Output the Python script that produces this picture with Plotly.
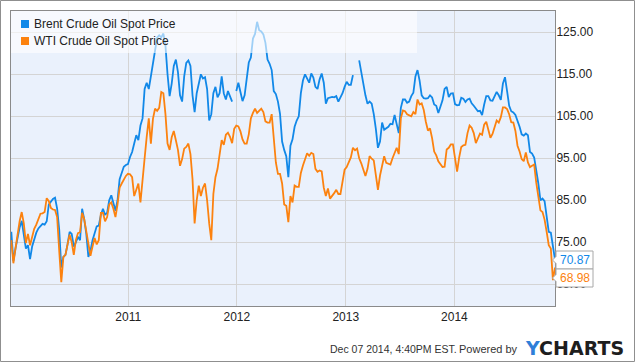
import pandas as pd
import plotly.graph_objects as go

# ---------------- data (weekly) ----------------
start_date = "2009-12-04"
n_weeks = 262
dates = pd.date_range(start=start_date, periods=n_weeks, freq="7D")

brent = [
    77.5, 70.5, 73.5, 76.5, 78.5, 80.1, 77.0, 73.5, 74.3, 71.0,
    74.0, 76.0, 77.3, 78.3, 79.0, 79.4, 79.2, 80.0, 84.0, 84.7,
    85.3, 85.6, 83.0, 78.0, 69.0, 71.5, 72.0, 74.5, 77.5, 77.0,
    74.0, 75.0, 76.3, 75.5, 83.0, 80.5, 77.0, 71.5, 73.0, 75.5,
    77.5, 78.8, 79.0, 81.5, 83.0, 81.6, 82.0, 85.0, 86.2, 84.5,
    82.5, 85.0, 90.0, 91.5, 93.0, 93.4, 93.6, 95.3, 96.5, 98.5,
    100.5, 99.3, 102.8, 104.5, 111.5, 113.0, 111.5, 114.5, 117.5, 121.5,
    123.7, 124.3, 123.8, 124.7, 121.8, 115.0, 109.8, 112.8, 117.0, 118.5,
    115.5, 110.0, 108.5, 114.5, 117.7, 118.3, 117.0, 110.0, 106.0, 110.5,
    113.0, 115.0, 114.0, 114.3, 111.5, 104.0, 105.5, 110.5, 112.0, 109.5,
    110.5, 114.5, 110.5, 109.0, 111.0, 109.5, 108.5, None, 111.0, 113.0,
    110.8, 108.6, 110.0, 114.0, 117.8, 119.0, 123.5, 124.6, 127.5, 125.5,
    125.2, 124.5, 122.5, 118.5, 117.5, 116.0, 111.0, 110.3, 108.5, 105.6,
    99.0, 97.0, 95.5, 90.5, 98.0, 99.5, 102.5, 104.0, 105.0, 110.5,
    113.5, 115.0, 114.0, 113.0, 115.2, 114.2, 112.0, 111.5, 113.8, 115.2,
    113.0, 108.0, 109.3, 109.5, 109.6, 109.5, 109.8, 108.5, 109.5, 110.5,
    112.0, 113.2, 112.5, 112.5, 114.8, None, None, 118.3, 115.5, 112.0,
    110.0, 108.0, 108.5, 108.0, 105.5, 102.0, 97.5, 99.0, 103.5, 101.8,
    102.1, 102.5, 103.2, 103.1, 105.3, 102.9, 101.0, 107.0, 109.0, 109.0,
    108.2, 108.5, 109.8, 110.6, 114.5, 116.0, 113.5, 110.0, 109.3, 109.2,
    109.3, 110.0, 109.5, 107.8, 107.5, 105.8, 107.5, 108.8, 111.5, 112.0,
    109.6, 110.4, 110.5, 107.9, 107.6, 107.7, 109.4, 109.2, 108.4, 109.0,
    109.2, 108.1, 107.5, 106.9, 106.2, 106.3, 105.3, 107.8, 109.8, 109.8,
    108.8, 108.7, 109.6, 110.8, 110.0, 108.9, 112.8, 114.3, 111.0, 107.5,
    106.2, 105.9, 105.3, 104.0, 102.5, 100.7, 100.4, 100.9, 100.5, 96.5,
    96.1, 95.2, 92.3, 89.0, 85.0, 85.4, 84.8, 80.8, 77.5, 77.3,
    74.0, 70.87,
]

wti = [
    75.5, 70.0, 73.5, 77.0, 80.0, 82.2, 79.5, 74.8, 77.0, 74.3,
    76.5, 78.2, 79.2, 80.5, 81.8, 81.9, 82.2, 85.5, 84.8, 83.2,
    82.8, 82.7, 81.0, 73.0, 65.5, 71.5, 72.0, 74.5, 76.8, 75.0,
    72.0, 75.5, 77.2, 77.4, 82.0, 80.5, 77.5, 74.0, 71.8, 74.0,
    76.0, 74.5, 75.5, 82.0, 82.0, 80.0, 81.0, 84.0, 84.5, 83.0,
    81.0, 84.0, 88.0, 89.0, 90.0, 90.8, 91.3, 91.2, 90.5, 86.0,
    87.5, 89.0, 84.5, 90.5, 95.0, 100.1, 104.5, 98.5, 104.4, 106.8,
    106.3, 107.0, 110.8, 110.5, 105.5, 98.5, 97.0, 100.0, 101.5, 99.3,
    97.0, 93.2, 94.8, 97.3, 97.7, 98.5, 96.0, 90.0, 79.5, 85.0,
    88.5, 86.0, 88.0, 89.0, 85.0, 79.5, 75.5, 86.5, 90.5, 92.5,
    95.5, 99.3, 98.2, 100.6, 101.1, 100.1, 98.6, 102.0, 102.8, 102.6,
    101.4, 99.5, 98.5, 98.5, 100.7, 104.5, 105.8, 106.8, 105.8, 106.2,
    106.8, 106.0, 103.8, 103.5, 103.5, 105.5, 99.0, 94.0, 91.3, 91.3,
    89.0, 84.0, 83.7, 79.8, 86.0, 84.5, 88.5, 88.2, 88.2, 91.5,
    93.3, 95.0, 96.2, 95.6, 96.3, 96.0, 92.5, 91.8, 92.1, 91.9,
    88.0, 86.0, 87.8, 85.4, 86.0, 86.7, 87.5, 86.5, 86.5, 89.5,
    92.3, 92.9, 94.0, 95.2, 97.5, 96.9, 97.3, 95.0, 93.8, 92.3,
    90.8, 92.5, 95.5, 94.9, 94.5, 91.0, 87.5, 90.9, 93.5, 95.5,
    93.9, 93.6, 93.5, 95.0, 96.5, 97.5, 96.0, 104.5, 106.4, 106.2,
    105.5, 105.2, 105.0, 106.0, 105.5, 109.0, 107.8, 108.1, 106.5, 103.7,
    101.6, 102.1, 99.8, 96.6, 95.7, 94.3, 93.5, 92.9, 93.0, 97.1,
    97.5, 98.3, 98.3, 95.0, 91.8, 95.2, 97.7, 98.1, 98.2, 101.0,
    102.8, 102.3, 101.0, 98.6, 99.8, 100.9, 100.6, 103.0, 103.7, 101.6,
    99.9, 100.8, 102.4, 104.0, 103.5, 104.8, 107.1, 107.1, 106.7, 105.5,
    103.6, 103.5, 101.5, 98.0, 96.6, 94.8, 94.3, 96.4, 94.0, 92.9,
    93.2, 93.5, 89.2, 85.5, 82.6, 82.2, 80.4, 77.5, 74.3, 73.5,
    66.0, 68.98,
]

series_names = ["Brent Crude Oil Spot Price", "WTI Crude Oil Spot Price"]
last_labels = ["70.87", "68.98"]
y_ticks = [65, 75, 85, 95, 105, 115, 125]
x_tick_dates = ["2011-01-01", "2012-01-01", "2013-01-01", "2014-01-01"]
x_tick_text = ["2011", "2012", "2013", "2014"]
footer_text = "Dec 07 2014, 4:40PM EST."

# ---------------- style ----------------
BLUE = "#1188e8"
ORANGE = "#fc820f"
FONT = "Liberation Sans, Arial, sans-serif"
W, H = 635, 362
ML, MR, MT, MB = 11, 80, 11, 56
PW, PH = W - ML - MR, H - MT - MB


def px(x):
    return (x - ML) / PW


def py(y):
    return (H - MB - y) / PH


fig = go.Figure()
fig.add_trace(go.Scatter(x=dates, y=brent, mode="lines", name=series_names[0],
                         line=dict(color=BLUE, width=1.8), connectgaps=False,
                         showlegend=False, hoverinfo="skip"))
fig.add_trace(go.Scatter(x=dates, y=wti, mode="lines", name=series_names[1],
                         line=dict(color=ORANGE, width=1.8), connectgaps=False,
                         showlegend=False, hoverinfo="skip"))

shapes = []
annotations = []

# legend background (semi-transparent, above lines)
shapes.append(dict(type="rect", xref="paper", yref="paper", layer="above",
                   x0=px(11), x1=px(417), y0=py(11), y1=py(53),
                   fillcolor="rgba(255,255,255,0.6)", line=dict(width=0)))
# legend swatches + text
for i, (name, col) in enumerate(zip(series_names, [BLUE, ORANGE])):
    cy = 24 + 17 * i
    shapes.append(dict(type="rect", xref="paper", yref="paper", layer="above",
                       x0=px(21), x1=px(29), y0=py(cy - 4), y1=py(cy + 4),
                       fillcolor=col, line=dict(width=0)))
    annotations.append(dict(text=name, xref="paper", yref="paper",
                            x=px(32), y=py(cy), xanchor="left", yanchor="middle",
                            showarrow=False,
                            font=dict(family=FONT, size=12, color="#222")))

# end-value tags
for lbl, col, cy in zip(last_labels, [BLUE, ORANGE], [260, 278]):
    x0, x1, tip = 556, 593, 552.5
    y0, y1 = cy - 9, cy + 9
    path = (f"M {px(x0)} {py(y0)} L {px(x1)} {py(y0)} L {px(x1)} {py(y1)} "
            f"L {px(x0)} {py(y1)} L {px(x0)} {py(cy + 3.5)} L {px(tip)} {py(cy)} "
            f"L {px(x0)} {py(cy - 3.5)} Z")
    shapes.append(dict(type="path", xref="paper", yref="paper", layer="above",
                       path=path, fillcolor="white", line=dict(color="#a8a8a8", width=1)))
    annotations.append(dict(text=lbl, xref="paper", yref="paper",
                            x=px(574.5), y=py(cy), xanchor="center", yanchor="middle",
                            showarrow=False,
                            font=dict(family=FONT, size=12, color=col)))

# outer border
shapes.append(dict(type="rect", xref="paper", yref="paper", layer="above",
                   x0=px(0.5), x1=px(634.5), y0=py(0.5), y1=py(361.5),
                   fillcolor="rgba(0,0,0,0)", line=dict(color="#8f8f8f", width=1)))

# footer
annotations.append(dict(text=footer_text, xref="paper", yref="paper",
                        x=px(328), y=py(349), xanchor="left", yanchor="middle",
                        showarrow=False,
                        font=dict(family=FONT, size=10.5, color="#333")))
annotations.append(dict(text="Powered by", xref="paper", yref="paper",
                        x=px(520), y=py(349), xanchor="right", yanchor="middle",
                        showarrow=False,
                        font=dict(family=FONT, size=11, color="#333")))
annotations.append(dict(text="<b><span style='color:#2f7fd8'>Y</span>CHARTS</b>",
                        xref="paper", yref="paper",
                        x=px(574.5), y=py(348), xanchor="center", yanchor="middle",
                        showarrow=False,
                        font=dict(family="DejaVu Sans", size=19, color="#1e1e1e")))

fig.update_layout(
    width=W, height=H,
    margin=dict(l=ML, r=MR, t=MT, b=MB, pad=0),
    paper_bgcolor="white",
    plot_bgcolor="#eaf1fc",
    showlegend=False,
    shapes=shapes,
    annotations=annotations,
    xaxis=dict(
        type="date",
        range=["2009-12-03", "2014-12-05"],
        tickvals=x_tick_dates, ticktext=x_tick_text,
        showgrid=True, gridcolor="#d4d4d4", gridwidth=1,
        showline=True, linecolor="#8a8a8a", linewidth=1, mirror=True,
        ticks="", zeroline=False,
        tickfont=dict(family=FONT, size=12, color="#222"),
    ),
    yaxis=dict(
        side="right",
        range=[59.83, 130.07],
        tickvals=y_ticks, tickformat=".2f",
        showgrid=True, gridcolor="#d4d4d4", gridwidth=1,
        showline=True, linecolor="#8a8a8a", linewidth=1, mirror=True,
        ticks="", zeroline=False, ticklabelstandoff=-2,
        tickfont=dict(family=FONT, size=12, color="#222"),
    ),
)

fig.write_html("out.html", config={"displayModeBar": False, "staticPlot": True},
               post_script="document.body.style.margin='0';document.body.style.overflow='hidden';")
